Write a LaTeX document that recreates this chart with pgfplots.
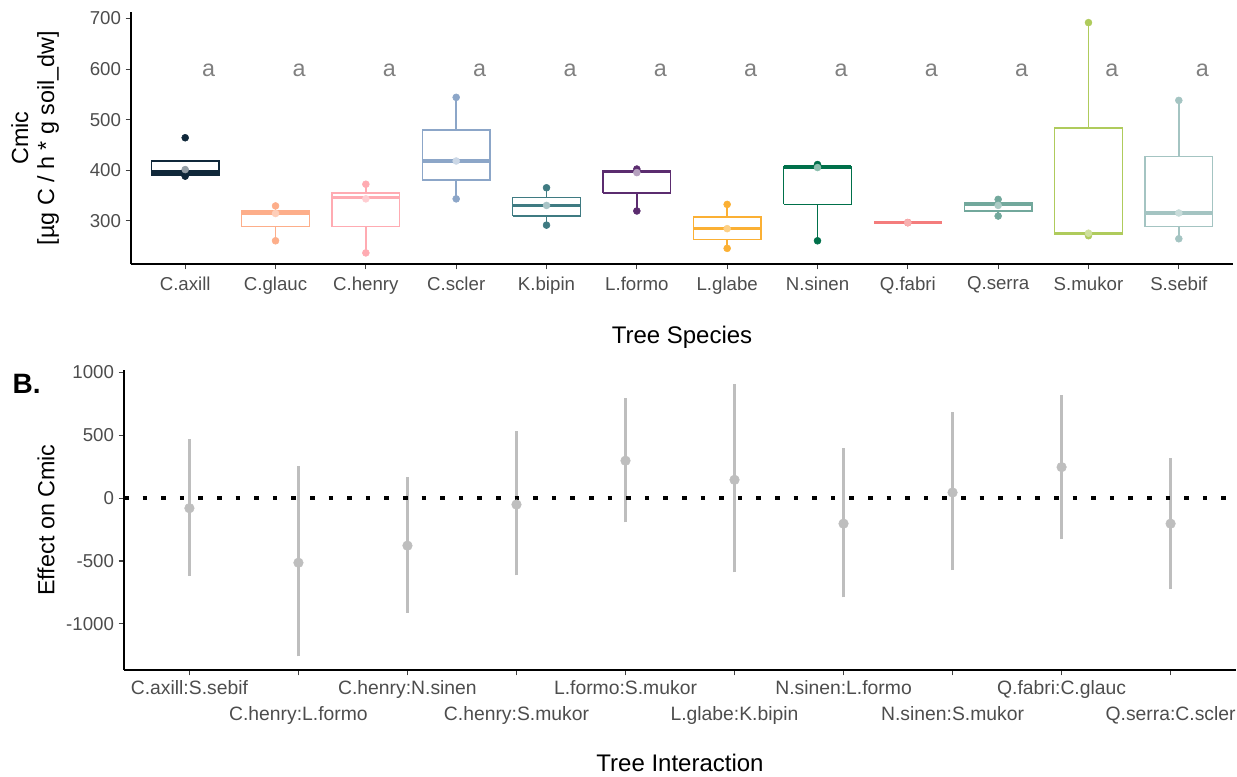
\documentclass[border=0pt]{standalone}
\usepackage{fontspec}
\setmainfont{Liberation Sans}
\usepackage{pgfplots}
\pgfplotsset{compat=1.18}
\usepackage{pgfplotstable}

\definecolor{cA}{HTML}{10283A}
\definecolor{cB}{HTML}{FDAE8A}
\definecolor{cC}{HTML}{FFABB2}
\definecolor{cD}{HTML}{8CA6C8}
\definecolor{cE}{HTML}{3F7B82}
\definecolor{cF}{HTML}{5B2C6F}
\definecolor{cG}{HTML}{FBB034}
\definecolor{cH}{HTML}{00704A}
\definecolor{cI}{HTML}{F47C7C}
\definecolor{cJ}{HTML}{72A89C}
\definecolor{cK}{HTML}{AFCB5C}
\definecolor{cL}{HTML}{A4C4C2}
\definecolor{barcol}{HTML}{BEBEBE}
\definecolor{tickgray}{HTML}{4D4D4D}
\definecolor{agray}{HTML}{808080}

\pgfplotstableread{
x y lo hi
1 -80 -618 473
2 -514 -1259 258
3 -378 -913 172
4 -51 -615 537
5 298 -192 798
6 146 -591 912
7 -203 -790 399
8 45 -572 683
9 247 -327 822
10 -203 -726 322
}\efftab

% #1 colour, #2 position, #3 left, #4 right, #5 lower whisker, #6 q1, #7 median, #8 q3, #9 upper whisker
\newcommand{\spbox}[9]{%
  \addplot[#1, line width=1.1pt] coordinates {(#3,#6) (#4,#6) (#4,#8) (#3,#8) (#3,#6)};
  \addplot[#1, line width=1.1pt] coordinates {(#2,#8) (#2,#9)};
  \addplot[#1, line width=1.1pt] coordinates {(#2,#5) (#2,#6)};
  \addplot[#1, line width=2.4pt] coordinates {(#3,#7) (#4,#7)};
}
\newcommand{\low}[1]{\raisebox{-19.5pt}[\height]{#1}}

\begin{document}
\begin{tikzpicture}
\path[use as bounding box] (0pt,0pt) rectangle (927.75pt,-582pt);

\begin{axis}[
  at={(98.25pt,-198pt)}, anchor=south west,
  width=826.5pt, height=189pt, scale only axis,
  xmin=0.4, xmax=12.6, ymin=214, ymax=713,
  axis x line*=bottom, axis y line*=left,
  axis line style={-, line width=1.1pt, black},
  xtick={1,2,3,4,5,6,7,8,9,10,11,12},
  xticklabels={C.axill,C.glauc,C.henry,C.scler,K.bipin,L.formo,L.glabe,N.sinen,Q.fabri,Q.serra,S.mukor,S.sebif},
  ytick={300,400,500,600,700},
  tick align=outside, major tick length=4pt,
  tick style={line width=0.8pt, black!75},
  ticklabel style={font=\fontsize{14}{16}\selectfont, text=tickgray},
  xticklabel style={yshift=-2pt},
  /pgf/number format/assume math mode=true,
  /pgf/number format/1000 sep={},
  xlabel={Tree Species},
  xlabel style={at={(axis description cs:0.5,-0.29)}, anchor=center, font=\fontsize{18}{20}\selectfont},
  ylabel={Cmic\\{}[µg C / h * g soil\_dw]},
  ylabel style={at={(axis description cs:-0.087,0.5)}, anchor=center, align=center, font=\fontsize{17.5}{19.5}\selectfont},
  clip=false,
]
\spbox{cA}{1}{0.625}{1.375}{388}{390}{396}{418}{418}
\spbox{cB}{2}{1.625}{2.375}{260}{288}{315}{319}{329}
\spbox{cC}{3}{2.625}{3.375}{236}{288}{345}{355}{372}
\spbox{cD}{4}{3.625}{4.375}{343}{380}{418}{479}{544}
\spbox{cE}{5}{4.625}{5.375}{291}{309}{330}{346}{365}
\spbox{cF}{6}{5.625}{6.375}{319}{355}{397}{399}{402}
\spbox{cG}{7}{6.625}{7.375}{245}{263}{284}{307}{332}
\spbox{cH}{8}{7.625}{8.375}{260}{332}{406}{407.5}{411}
\spbox{cI}{9}{8.625}{9.375}{296}{296}{296}{296}{296}
\spbox{cJ}{10}{9.625}{10.375}{309}{318.6}{332}{335}{342}
\spbox{cK}{11}{10.625}{11.375}{270}{272}{275}{483}{692}
\spbox{cL}{12}{11.625}{12.375}{264}{288}{315}{427}{538}

% observations (outer points)
\addplot[only marks, mark=*, mark size=2.6pt, cA] coordinates {(1,464) (1,388)};
\addplot[only marks, mark=*, mark size=2.6pt, cB] coordinates {(2,329) (2,260)};
\addplot[only marks, mark=*, mark size=2.6pt, cC] coordinates {(3,372) (3,236)};
\addplot[only marks, mark=*, mark size=2.6pt, cD] coordinates {(4,544) (4,343)};
\addplot[only marks, mark=*, mark size=2.6pt, cE] coordinates {(5,365) (5,291)};
\addplot[only marks, mark=*, mark size=2.6pt, cF] coordinates {(6,402) (6,319)};
\addplot[only marks, mark=*, mark size=2.6pt, cG] coordinates {(7,332) (7,245)};
\addplot[only marks, mark=*, mark size=2.6pt, cH] coordinates {(8,411) (8,260)};
\addplot[only marks, mark=*, mark size=2.6pt, cI] coordinates {(9,296) (9,296)};
\addplot[only marks, mark=*, mark size=2.6pt, cJ] coordinates {(10,342) (10,309)};
\addplot[only marks, mark=*, mark size=2.6pt, cK] coordinates {(11,692) (11,270)};
\addplot[only marks, mark=*, mark size=2.6pt, cL] coordinates {(12,538) (12,264)};
% middle points (lighter)
\addplot[only marks, mark=*, mark size=2.6pt, cA!45!white] coordinates {(1,401)};
\addplot[only marks, mark=*, mark size=2.6pt, cB!60!white] coordinates {(2,314)};
\addplot[only marks, mark=*, mark size=2.6pt, cC!60!white] coordinates {(3,343)};
\addplot[only marks, mark=*, mark size=2.6pt, cD!45!white] coordinates {(4,418)};
\addplot[only marks, mark=*, mark size=2.6pt, cE!45!white] coordinates {(5,330)};
\addplot[only marks, mark=*, mark size=2.6pt, cF!45!white] coordinates {(6,395)};
\addplot[only marks, mark=*, mark size=2.6pt, cG!60!white] coordinates {(7,284)};
\addplot[only marks, mark=*, mark size=2.6pt, cH!45!white] coordinates {(8,405)};
\addplot[only marks, mark=*, mark size=2.6pt, cI!60!white] coordinates {(9,296)};
\addplot[only marks, mark=*, mark size=2.6pt, cJ!60!white] coordinates {(10,330)};
\addplot[only marks, mark=*, mark size=2.6pt, cK!60!white] coordinates {(11,275)};
\addplot[only marks, mark=*, mark size=2.6pt, cL!60!white] coordinates {(12,315)};

% letters
\addplot[draw=none, mark=none, nodes near coords={a},
  every node near coord/.append style={anchor=center, text=agray, font=\fontsize{17.5}{20}\selectfont}]
  coordinates {(1.26,598) (2.26,598) (3.26,598) (4.26,598) (5.26,598) (6.26,598) (7.26,598) (8.26,598) (9.26,598) (10.26,598) (11.26,598) (12.26,598)};
\end{axis}

\node[font=\bfseries\fontsize{21}{24}\selectfont, anchor=center] at (20pt,-288pt) {B.};

\begin{axis}[
  at={(93pt,-502.5pt)}, anchor=south west,
  width=834pt, height=225pt, scale only axis,
  xmin=0.4, xmax=10.6, ymin=-1368, ymax=1020,
  axis x line*=bottom, axis y line*=left,
  axis line style={-, line width=1.1pt, black},
  xtick={1,2,3,4,5,6,7,8,9,10},
  xticklabels={C.axill:S.sebif, \low{C.henry:L.formo}, C.henry:N.sinen, \low{C.henry:S.mukor}, L.formo:S.mukor, \low{L.glabe:K.bipin}, N.sinen:L.formo, \low{N.sinen:S.mukor}, Q.fabri:C.glauc, \low{Q.serra:C.scler}},
  ytick={-1000,-500,0,500,1000},
  tick align=outside, major tick length=4pt,
  tick style={line width=0.8pt, black!75},
  ticklabel style={text=tickgray},
  yticklabel style={font=\fontsize{14}{16}\selectfont},
  xticklabel style={font=\fontsize{14.5}{16}\selectfont, yshift=-0.5pt},
  /pgf/number format/assume math mode=true,
  /pgf/number format/1000 sep={},
  xlabel={Tree Interaction},
  xlabel style={at={(axis description cs:0.5,-0.31)}, anchor=center, font=\fontsize{18}{20}\selectfont},
  ylabel={Effect on Cmic},
  ylabel style={at={(axis description cs:-0.07,0.5)}, anchor=center, font=\fontsize{17.5}{20}\selectfont},
  clip=false,
]
\addplot[barcol, line width=2.4pt] coordinates {(1,-618) (1,473)};
\addplot[barcol, line width=2.4pt] coordinates {(2,-1259) (2,258)};
\addplot[barcol, line width=2.4pt] coordinates {(3,-913) (3,172)};
\addplot[barcol, line width=2.4pt] coordinates {(4,-615) (4,537)};
\addplot[barcol, line width=2.4pt] coordinates {(5,-192) (5,798)};
\addplot[barcol, line width=2.4pt] coordinates {(6,-591) (6,912)};
\addplot[barcol, line width=2.4pt] coordinates {(7,-790) (7,399)};
\addplot[barcol, line width=2.4pt] coordinates {(8,-572) (8,683)};
\addplot[barcol, line width=2.4pt] coordinates {(9,-327) (9,822)};
\addplot[barcol, line width=2.4pt] coordinates {(10,-726) (10,322)};
\addplot[only marks, mark=*, mark size=3.6pt, barcol] table[x=x, y=y] {\efftab};
\addplot[black, line width=3.5pt, dash pattern=on 3.5pt off 10.45pt] coordinates {(0.4,0) (10.6,0)};
\end{axis}
\end{tikzpicture}
\end{document}
